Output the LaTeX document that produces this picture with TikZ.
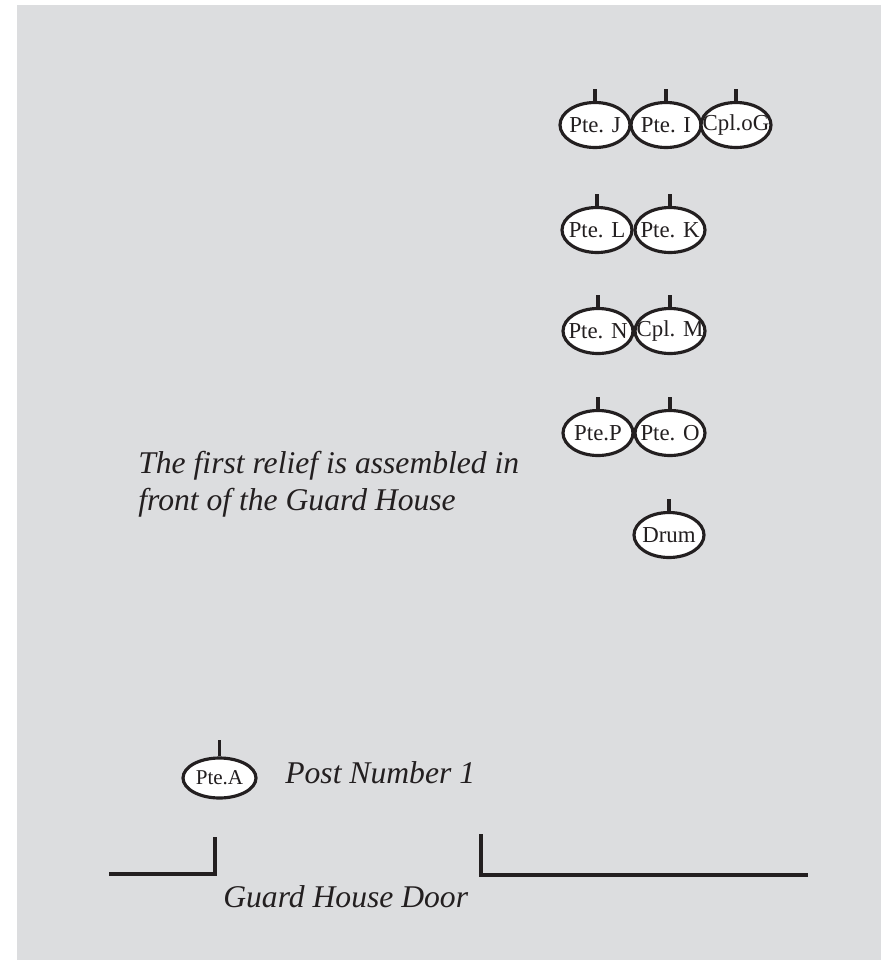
\documentclass[tikz,border=0pt]{standalone}
\usepackage{fontspec}
\setmainfont{Liberation Serif}
\usetikzlibrary{shapes.geometric}
\definecolor{guardgrey}{RGB}{220,221,223}
\definecolor{guardink}{RGB}{35,31,32}

\begin{document}
\begin{tikzpicture}[x=0.02cm, y=-0.02cm,
    soldier/.style={ellipse, draw=guardink, line width=1.8pt, fill=white,
        minimum width=1.4cm, minimum height=0.9cm, inner xsep=-10pt, inner ysep=-3pt,
        text=guardink, font=\fontsize{13}{15}\selectfont},
    caption/.style={text=guardink, inner sep=0pt,
        font=\fontsize{18}{21}\selectfont\itshape},
    wall/.style={draw=guardink, line width=1.8pt}]
    \useasboundingbox (0,0) rectangle (886,960);
    \fill[guardgrey] (17,5) rectangle (881,960);

    % First relief
    \foreach \n/\x/\y/\txt in {pj/595/125/Pte. J, pi/666/125/Pte. I, cg/736/125/Cpl.oG,
            pl/597/230/Pte. L, pk/670/230/Pte. K,
            pn/598/331/Pte. N, cm/670/331/Cpl. M,
            pp/598/433/Pte.P, po/670/433/Pte. O,
            drum/669/535/Drum} {
        \node[soldier] (\n) at (\x,\y) {\txt};
        \draw[wall] (\n.north) -- ++(0,-12);
    }
    \node[caption, anchor=base west, align=left] (relief) at (138,510)
        {The first relief is assembled in\\front of the Guard House};

    % Post
    \node[soldier, minimum width=1.46cm, minimum height=0.8cm,
        font=\fontsize{12}{14}\selectfont] (pa) at (219.5,778) {Pte.A};
    \draw[wall] (pa.north) -- ++(0,-16);
    \node[caption, anchor=base west] (post) at (285,783) {Post Number 1};

    % Guard House
    \coordinate (wl0) at (109,874);
    \coordinate (wl1) at (215,874);
    \coordinate (wl2) at (215,837);
    \coordinate (wr0) at (481,834);
    \coordinate (wr1) at (481,875);
    \coordinate (wr2) at (808,875);
    \draw[wall] (wl0) -- (wl1) -- (wl2);
    \draw[wall] (wr0) -- (wr1) -- (wr2);
    \node[caption, anchor=base west] (door) at (223,907) {Guard House Door};
\end{tikzpicture}
\end{document}
